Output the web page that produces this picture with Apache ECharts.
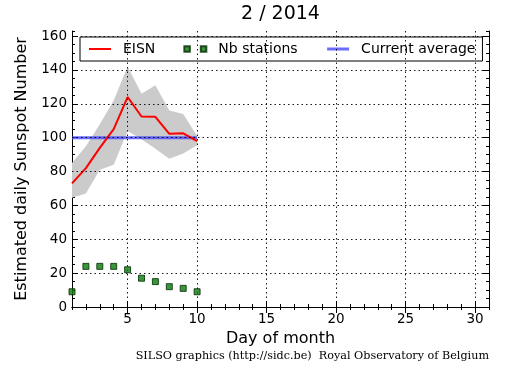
<!DOCTYPE html>
<html>
<head>
<meta charset="utf-8">
<script src="https://cdn.jsdelivr.net/npm/echarts@6/dist/echarts.min.js"></script>
<style>html,body{margin:0;padding:0;background:#fff}#c{width:515px;height:370px}</style>
</head>
<body>
<div id="c"></div>
<script>
// ---- data ----
const days = [1, 2, 3, 4, 5, 6, 7, 8, 9, 10];
const eisn = [73, 82, 94, 105, 124, 112.5, 112.3, 102.3, 102.6, 98];
const bandUpper = [85, 95, 108, 122, 142, 126, 131, 116, 114, 101];
const bandLower = [64.5, 67, 81, 84, 104, 99, 93.5, 87.6, 90.6, 95.5];
const nbStations = [9, 24, 24, 24, 22, 17, 15, 12, 11, 9];
const avgDays = [1, 10];
const avgValues = [100, 100];
const xTicks = [5, 10, 15, 20, 25, 30];
const yTicks = [0, 20, 40, 60, 80, 100, 120, 140, 160];
const xRange = [1, 31];
const yRange = [0, 163];

const FONT = 'DejaVu Sans';
const pairs = (xs, ys) => xs.map((x, i) => [x, ys[i]]);

const chart = echarts.init(document.getElementById('c'), null, {renderer: 'canvas'});

function xAx(pos, major, showLabel) {
  const a = {
    type: 'value', min: xRange[0], max: xRange[1], position: pos,
    axisLine: {show: major, lineStyle: {color: '#000', width: 1}},
    splitLine: {show: false},
    axisTick: {show: true, inside: true, length: major ? 6 : 3, lineStyle: {color: '#000', width: 1}},
    axisLabel: {show: false}
  };
  if (major) {
    a.axisTick.customValues = xTicks;
    a.axisLabel = {show: showLabel, customValues: xTicks, color: '#000', fontFamily: FONT, fontSize: 13.5, margin: 5};
  } else {
    a.interval = 1;
  }
  return a;
}
function yAx(pos, major, showLabel) {
  const a = {
    type: 'value', min: yRange[0], max: yRange[1], position: pos,
    axisLine: {show: major, lineStyle: {color: '#000', width: 1}},
    splitLine: {show: false},
    axisTick: {show: true, inside: true, length: major ? 6 : 3, lineStyle: {color: '#000', width: 1}},
    axisLabel: {show: false}
  };
  if (major) {
    a.axisTick.customValues = yTicks;
    a.axisLabel = {show: showLabel, customValues: yTicks, color: '#000', fontFamily: FONT, fontSize: 13.5, margin: 5};
  } else {
    a.interval = 5;
  }
  return a;
}

const xA = [xAx('bottom', true, true), xAx('bottom', false), xAx('top', true, false), xAx('top', false)];
xA[0].name = 'Day of month';
xA[0].nameLocation = 'middle';
xA[0].nameGap = 23;
xA[0].nameTextStyle = {color: '#000', fontFamily: FONT, fontSize: 16};
const yA = [yAx('left', true, true), yAx('left', false), yAx('right', true, false), yAx('right', false)];
yA[0].name = 'Estimated daily Sunspot Number';
yA[0].nameLocation = 'middle';
yA[0].nameGap = 42;
yA[0].nameTextStyle = {color: '#000', fontFamily: FONT, fontSize: 16};

const gridLine = {color: '#000', width: 0.9, type: [1.5, 3]};
const bandRows = days.map((d, i) => [d, bandLower[i], bandUpper[i]]);
const avgColor = 'rgba(70,70,255,0.8)';

const option = {
  animation: false,
  backgroundColor: '#fff',
  grid: {left: 72, right: 26, top: 31, bottom: 63, containLabel: false},
  xAxis: xA,
  yAxis: yA,
  legend: {
    left: 80, top: 37,
    padding: [5, 7, 5, 8],
    borderColor: '#000', borderWidth: 1, borderRadius: 0,
    backgroundColor: '#fff',
    itemWidth: 22, itemHeight: 6, itemGap: 28,
    textStyle: {color: '#000', fontFamily: FONT, fontSize: 14, padding: [0, 0, 0, 7]},
    data: [
      {name: 'EISN', itemStyle: {opacity: 0}, lineStyle: {width: 2, color: '#ff0000'}},
      {name: 'Nb stations', icon: 'path://M0,0h6v6h-6zM18,0h6v6h-6z'},
      {name: 'Current average', itemStyle: {opacity: 0}, lineStyle: {width: 3, color: avgColor}}
    ]
  },
  graphic: [
    {type: 'text', x: 280.5, y: 14, style: {text: '2 / 2014', fill: '#000', font: '19px "DejaVu Sans"', align: 'center', verticalAlign: 'middle'}},
    {type: 'text', x: 489, y: 356, style: {text: 'SILSO graphics (http://sidc.be)  Royal Observatory of Belgium', fill: '#000', font: '11.2px "DejaVu Serif"', align: 'right', verticalAlign: 'middle'}}
  ],
  series: [
    {
      name: 'band', type: 'custom', z: 1, silent: true,
      data: bandRows,
      encode: {x: 0, y: [1, 2]},
      renderItem: function (params, api) {
        if (params.dataIndex !== 0) return null;
        const top = bandRows.map(r => api.coord([r[0], r[2]]));
        const bot = bandRows.map(r => api.coord([r[0], r[1]])).reverse();
        return {type: 'polygon', shape: {points: top.concat(bot)}, style: {fill: '#cbcbcb'}};
      }
    },
    {
      name: 'grid', type: 'line', z: 2, silent: true, data: [],
      markLine: {
        silent: true, symbol: ['none', 'none'], label: {show: false},
        lineStyle: gridLine, animation: false,
        data: xTicks.map(v => ({xAxis: v})).concat(yTicks.filter(v => v > 0).map(v => ({yAxis: v})))
      }
    },
    {
      name: 'Current average', type: 'line', z: 3,
      data: pairs(avgDays, avgValues), symbol: 'none',
      itemStyle: {color: avgColor},
      lineStyle: {color: avgColor, width: 3}
    },
    {
      name: 'EISN', type: 'line', z: 4,
      data: pairs(days, eisn), symbol: 'none',
      itemStyle: {color: '#ff0000'},
      lineStyle: {color: '#ff0000', width: 2}
    },
    {
      name: 'Nb stations', type: 'scatter', z: 5,
      data: pairs(days, nbStations), symbol: 'rect', symbolSize: 6,
      itemStyle: {color: '#0a7a0a', borderColor: '#002a00', borderWidth: 1}
    }
  ]
};
chart.setOption(option);
</script>
</body>
</html>
